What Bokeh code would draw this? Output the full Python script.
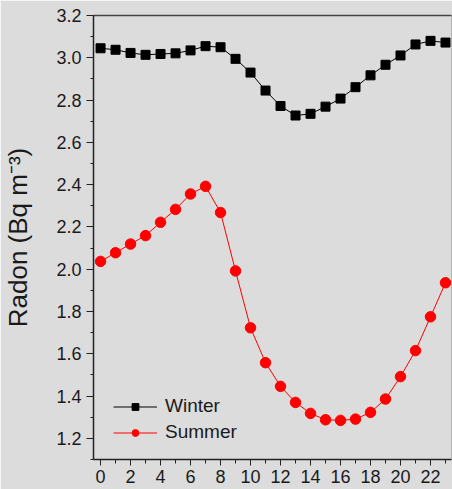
from bokeh.plotting import figure
from bokeh.models import Range1d, FixedTicker, Legend, LegendItem, PrintfTickFormatter, LinearAxis
from bokeh.embed import file_html
from bokeh.resources import INLINE

hours = list(range(24))
winter = [3.045, 3.038, 3.023, 3.014, 3.018, 3.021, 3.035, 3.055, 3.050, 2.995,
          2.930, 2.845, 2.772, 2.727, 2.735, 2.769, 2.807, 2.861, 2.917, 2.967,
          3.011, 3.063, 3.080, 3.072]
summer = [2.037, 2.078, 2.119, 2.159, 2.222, 2.283, 2.356, 2.392, 2.268, 1.992,
          1.723, 1.558, 1.446, 1.370, 1.318, 1.288, 1.285, 1.291, 1.323, 1.386,
          1.492, 1.615, 1.775, 1.936]
x_ticks = list(range(0, 23, 2))
x_minor = list(range(0, 24))
y_ticks = [1.2, 1.4, 1.6, 1.8, 2.0, 2.2, 2.4, 2.6, 2.8, 3.0, 3.2]
y_minor = [1.1 + 0.1 * i for i in range(22)]
y_label = "Radon (Bq m\u207b\u00b3)"

BG = "#dcdcdc"
FONT = "Liberation Sans"

p = figure(width=452, height=489, output_backend="svg", toolbar_location=None,
           x_range=Range1d(-0.47, 23.4), y_range=Range1d(1.1, 3.2),
           min_border_left=93, min_border_right=1, min_border_top=15, min_border_bottom=30)
p.background_fill_color = BG
p.border_fill_color = BG
p.outline_line_color = "#b4b4b4"
p.xgrid.visible = False
p.ygrid.visible = False

p.xaxis.ticker = FixedTicker(ticks=x_ticks, minor_ticks=x_minor)
p.yaxis.ticker = FixedTicker(ticks=y_ticks, minor_ticks=y_minor)
p.yaxis.formatter = PrintfTickFormatter(format="%.1f")
for ax in (p.xaxis[0], p.yaxis[0]):
    ax.axis_line_color = "#222222"
    ax.axis_line_width = 1.5
    ax.major_tick_line_color = "#222222"
    ax.minor_tick_line_color = "#222222"
    ax.major_tick_in = 0
    ax.minor_tick_in = 0
    ax.major_label_text_font = FONT
    ax.major_label_text_font_size = "18px"
    ax.major_label_text_color = "#1a1a1a"
p.xaxis.major_tick_out = 6
p.xaxis.minor_tick_out = 4
p.yaxis.major_tick_out = 7
p.yaxis.minor_tick_out = 3
p.xaxis.major_label_standoff = 4
p.yaxis.major_label_standoff = 5
p.yaxis.axis_label = y_label
p.yaxis.axis_label_text_font = FONT
p.yaxis.axis_label_text_font_style = "normal"
p.yaxis.axis_label_text_font_size = "26px"
p.yaxis.axis_label_text_color = "#1a1a1a"
p.yaxis.axis_label_standoff = 20

top = LinearAxis(ticker=FixedTicker(ticks=[]), major_label_text_font_size="0px",
                 axis_line_color="#444444", axis_line_width=1.5,
                 major_tick_line_color=None, minor_tick_line_color=None)
p.add_layout(top, "above")

wl = p.line(hours, winter, line_color="black", line_width=1)
ws = p.scatter(hours, winter, marker="square", size=9, fill_color="black", line_color="black")
sl = p.line(hours, summer, line_color="#ff0000", line_width=1)
ss = p.scatter(hours, summer, marker="circle", size=10.5, fill_color="#ff0000", line_color="#ff0000")

legend = Legend(items=[LegendItem(label="Winter", renderers=[wl, ws]),
                       LegendItem(label="Summer", renderers=[sl, ss])],
                location=(20, 16), orientation="vertical",
                background_fill_alpha=0, border_line_color=None,
                padding=0, margin=0, spacing=4,
                glyph_width=44, glyph_height=17, label_height=17, label_standoff=8,
                label_text_font=FONT, label_text_font_size="19px", label_text_color="#1a1a1a")
p.add_layout(legend, "center")

open("out.html", "w").write(file_html(p, INLINE))
